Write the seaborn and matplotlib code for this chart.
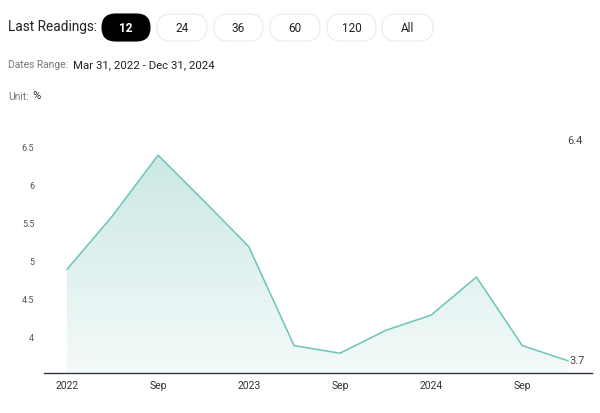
import numpy as np
import pandas as pd
import matplotlib
matplotlib.use("Agg")
import matplotlib.pyplot as plt
from matplotlib.patches import FancyBboxPatch
import seaborn as sns

sns.set_theme(style="white")
plt.rcParams["font.family"] = ["Roboto", "DejaVu Sans"]

# données : lectures trimestrielles (%)
DATES = ["2022-03-31", "2022-06-30", "2022-09-30", "2022-12-31",
         "2023-03-31", "2023-06-30", "2023-09-30", "2023-12-31",
         "2024-03-31", "2024-06-30", "2024-09-30", "2024-12-31"]
VALUES = [4.9, 5.6, 6.4, 5.8, 5.2, 3.9, 3.8, 4.1, 4.3, 4.8, 3.9, 3.7]
TICK_LABELS = ["2022", "Sep", "2023", "Sep", "2024", "Sep"]
Y_TICKS = [4, 4.5, 5, 5.5, 6, 6.5]
BUTTONS = ["12", "24", "36", "60", "120", "All"]

LINE = "#6cc4b9"
TOP_FILL = np.array([0.80, 0.91, 0.895])
BOT_FILL = np.array([0.955, 0.982, 0.978])

df = pd.DataFrame({"date": pd.to_datetime(DATES), "value": VALUES})

W, H = 600, 413
fig = plt.figure(figsize=(W / 100, H / 100), dpi=100)

# ── en-tête (axes en pixels) ──
hd = fig.add_axes([0, 0, 1, 1], zorder=5)
hd.set_xlim(0, W)
hd.set_ylim(H, 0)
hd.axis("off")
hd.patch.set_alpha(0)

hd.text(8, 27, "Last Readings:", fontsize=9.8, color="#222222", va="center")
btn_x = [102, 157, 214, 270, 327, 382]
btn_w = [48, 50, 49, 50, 49, 51]
for label, bx, bw in zip(BUTTONS, btn_x, btn_w):
    active = label == "12"
    hd.add_patch(FancyBboxPatch((bx, 14), bw, 27,
                                boxstyle="round,pad=0,rounding_size=13.5",
                                facecolor="black" if active else "white",
                                edgecolor="black" if active else "#ebebeb",
                                linewidth=0.8))
    hd.text(bx + bw / 2, 28, label, fontsize=8.5, ha="center", va="center",
            color="white" if active else "#222222",
            fontweight="bold" if active else "normal")

hd.text(8, 65, "Dates Range:", fontsize=7.4, color="#777777", va="center")
hd.text(73, 65, "Mar 31, 2022 - Dec 31, 2024", fontsize=8.2, color="#222222", va="center")
hd.text(8, 97, "Unit:", fontsize=7.4, color="#777777", va="center")
hd.text(32, 96, "%", fontsize=8, color="#222222", va="center")

# ── graphique ──
left, top = 44 / W, 1 - 140 / H
right, bottom = 592 / W, 1 - 373 / H
ax = fig.add_axes([left, bottom, right - left, top - bottom])

sns.lineplot(data=df, x="date", y="value", ax=ax, color=LINE, linewidth=1.1, zorder=3)

ymin, ymax = 3.54, 6.6
ax.set_xlim(df["date"].iloc[0] - pd.Timedelta(days=46),
            df["date"].iloc[-1] + pd.Timedelta(days=48))

# remplissage en dégradé
poly = ax.fill_between(df["date"], df["value"], ymin, color="none")
grad = np.linspace(0, 1, 256)[:, None]
img = TOP_FILL * (1 - grad[..., None]) + BOT_FILL * grad[..., None]
img = np.repeat(img, 2, axis=1)
xl = ax.get_xlim()
im = ax.imshow(img, extent=[xl[0], xl[1], ymin, max(VALUES)], aspect="auto",
               origin="upper", zorder=1)
im.set_clip_path(poly.get_paths()[0], transform=ax.transData)
ax.set_xlim(xl)
ax.set_ylim(ymin, ymax)

ax.set_xticks(df["date"].iloc[::2])
ax.set_xticklabels(TICK_LABELS)
ax.set_yticks(Y_TICKS)
ax.set_yticklabels([f"{t:g}" for t in Y_TICKS])
ax.tick_params(axis="x", length=3, color="#333344", labelsize=7.5, labelcolor="#333333", pad=3)
ax.tick_params(axis="y", length=0, labelsize=6.5, labelcolor="#555555", pad=7)
ax.set_xlabel("")
ax.set_ylabel("")
for s in ["top", "right", "left"]:
    ax.spines[s].set_visible(False)
ax.spines["bottom"].set_color("#333344")
ax.spines["bottom"].set_linewidth(1.0)

# étiquettes max / dernière valeur
hd.text(575, 141, f"{max(VALUES):g}", fontsize=8, color="#444444", ha="center", va="center")
ax.annotate(f"{VALUES[-1]:g}", (df["date"].iloc[-1], VALUES[-1]), xytext=(1, 0),
            textcoords="offset points", fontsize=8, color="#444444", ha="left", va="center")

fig.savefig("out.png", dpi=100)
